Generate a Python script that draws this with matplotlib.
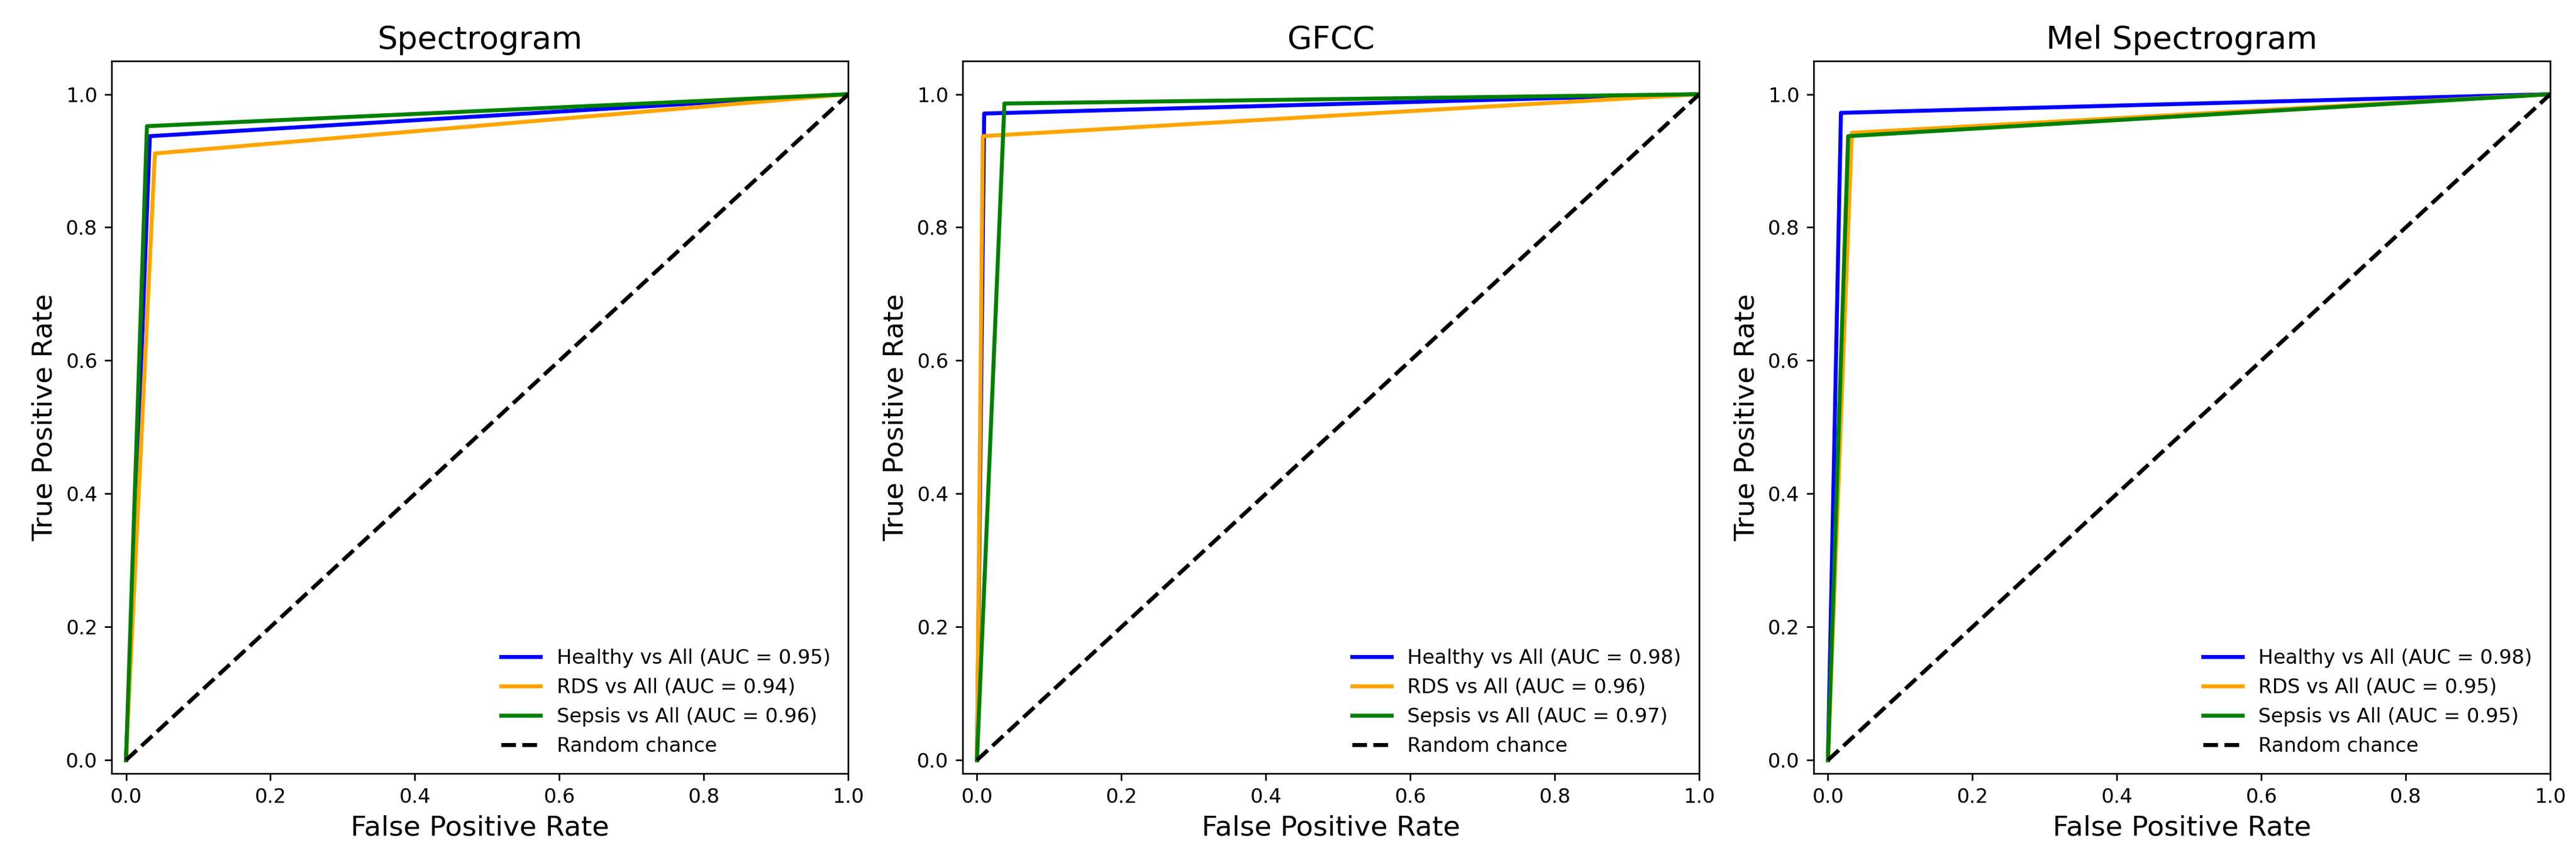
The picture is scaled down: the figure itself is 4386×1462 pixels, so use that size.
import numpy as np
import matplotlib
matplotlib.use("Agg")
import matplotlib.pyplot as plt

# one operating point per one-vs-all curve: (fpr, tpr)
panel_titles = ["Spectrogram", "GFCC", "Mel Spectrogram"]
class_names = ["Healthy", "RDS", "Sepsis"]
class_colors = ["blue", "orange", "green"]

spec_fpr = [0.033, 0.040, 0.029]
spec_tpr = [0.937, 0.911, 0.952]
spec_auc = [0.95, 0.94, 0.96]

gfcc_fpr = [0.010, 0.008, 0.038]
gfcc_tpr = [0.971, 0.937, 0.986]
gfcc_auc = [0.98, 0.96, 0.97]

mel_fpr = [0.018, 0.033, 0.028]
mel_tpr = [0.972, 0.942, 0.937]
mel_auc = [0.98, 0.95, 0.95]

panels = [
    (spec_fpr, spec_tpr, spec_auc),
    (gfcc_fpr, gfcc_tpr, gfcc_auc),
    (mel_fpr, mel_tpr, mel_auc),
]

fig, axes = plt.subplots(1, 3, figsize=(18, 6), dpi=243.67)
fig.subplots_adjust(left=0.0433, right=0.990, bottom=0.0985, top=0.929, wspace=0.155)

for ax, title, (fpr, tpr, auc) in zip(axes, panel_titles, panels):
    for name, c, f, t, a in zip(class_names, class_colors, fpr, tpr, auc):
        ax.plot([0, f, 1], [0, t, 1], color=c, lw=2, label=f"{name} vs All (AUC = {a:.2f})")
    ax.plot([0, 1], [0, 1], "k--", lw=2, label="Random chance")
    ax.set_xlim([-0.02, 1.0])
    ax.set_ylim([-0.02, 1.05])
    ax.set_xlabel("False Positive Rate", fontsize=14)
    ax.set_ylabel("True Positive Rate", fontsize=14)
    ax.set_title(title, fontsize=16)
    ax.legend(loc="lower right", frameon=False)

fig.savefig("out.png", dpi=243.67)
